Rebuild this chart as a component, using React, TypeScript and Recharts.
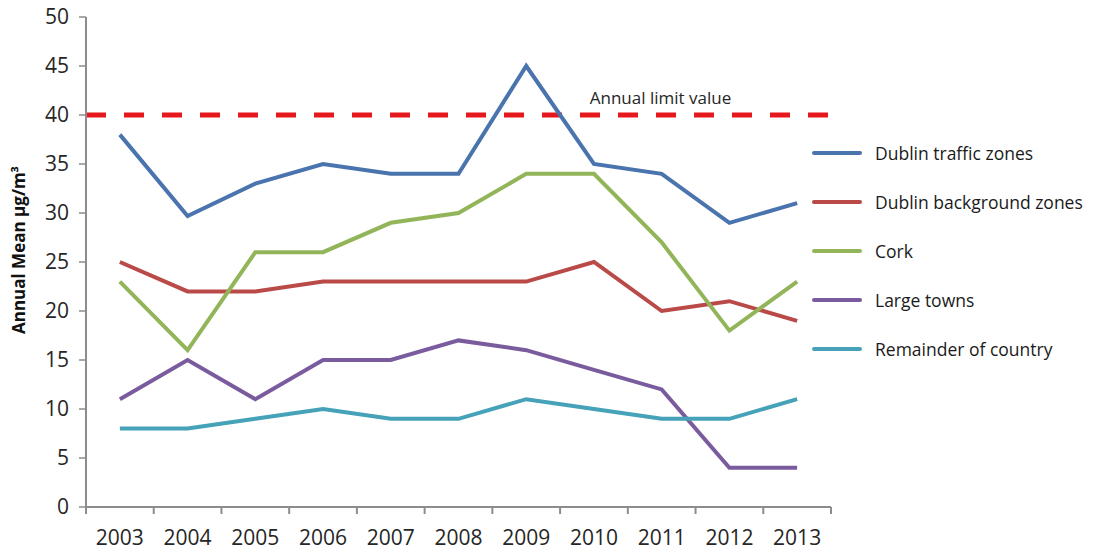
import React from 'react';
import { LineChart, Line, XAxis, YAxis, ReferenceLine } from 'recharts';

const YEARS = [2003, 2004, 2005, 2006, 2007, 2008, 2009, 2010, 2011, 2012, 2013];
const DUBLIN_TRAFFIC = [38, 29.7, 33, 35, 34, 34, 45, 35, 34, 29, 31];
const DUBLIN_BACKGROUND = [25, 22, 22, 23, 23, 23, 23, 25, 20, 21, 19];
const CORK = [23, 16, 26, 26, 29, 30, 34, 34, 27, 18, 23];
const LARGE_TOWNS = [11, 15, 11, 15, 15, 17, 16, 14, 12, 4, 4];
const REMAINDER = [8, 8, 9, 10, 9, 9, 11, 10, 9, 9, 11];
const Y_TICKS = [0, 5, 10, 15, 20, 25, 30, 35, 40, 45, 50];
const LIMIT_VALUE = 40;

const SERIES = [
  { key: 'traffic', name: 'Dublin traffic zones', values: DUBLIN_TRAFFIC, color: '#4A74AD' },
  { key: 'background', name: 'Dublin background zones', values: DUBLIN_BACKGROUND, color: '#B94A48' },
  { key: 'cork', name: 'Cork', values: CORK, color: '#93B55A' },
  { key: 'towns', name: 'Large towns', values: LARGE_TOWNS, color: '#7A5C9E' },
  { key: 'remainder', name: 'Remainder of country', values: REMAINDER, color: '#45A2B8' },
];

const data = YEARS.map((year, i) => {
  const row: Record<string, number> = { year };
  SERIES.forEach((s) => { row[s.key] = s.values[i]; });
  return row;
});

const X_TICKS: number[] = [];
YEARS.forEach((y) => { X_TICKS.push(y - 0.5); X_TICKS.push(y); });
X_TICKS.push(YEARS[YEARS.length - 1] + 0.5);

const FONT = '"Open Sans", sans-serif';
const AXIS_COLOR = '#8C8C8C';

const XTick = (props: any) => {
  const { x, y, payload } = props;
  const v = payload.value;
  if (Number.isInteger(v)) {
    return (
      <text x={x} y={y + 38} textAnchor="middle" fontFamily={FONT} fontSize={21} fill="#262626">
        {v}
      </text>
    );
  }
  return <line x1={x} x2={x} y1={y} y2={y + 7} stroke={AXIS_COLOR} strokeWidth={2} />;
};

const LegendBox = () => (
  <div style={{ position: 'absolute', left: 812, top: 128, fontFamily: FONT, fontSize: 17.5, color: '#1a1a1a' }}>
    {SERIES.map((s) => (
      <div key={s.key} style={{ display: 'flex', alignItems: 'center', height: 49, whiteSpace: 'nowrap' }}>
        <div style={{ width: 50, height: 4, background: s.color, borderRadius: 2, marginRight: 13 }} />
        <span>{s.name}</span>
      </div>
    ))}
  </div>
);

export default function App() {
  return (
    <div style={{ position: 'absolute', left: 0, top: 0, width: 1097, height: 558, background: '#fff' }}>
      <LineChart width={1097} height={558} data={data} margin={{ top: 17, right: 266, bottom: 11, left: 26 }}>
        <XAxis
          dataKey="year"
          type="number"
          domain={[YEARS[0] - 0.5, YEARS[YEARS.length - 1] + 0.5]}
          ticks={X_TICKS}
          interval={0}
          tickLine={false}
          tickSize={0}
          tickMargin={0}
          height={40}
          axisLine={{ stroke: AXIS_COLOR, strokeWidth: 2 }}
          tick={<XTick />}
        />
        <YAxis
          width={60}
          domain={[0, 50]}
          ticks={Y_TICKS}
          interval={0}
          tickSize={7}
          tickMargin={10}
          axisLine={{ stroke: AXIS_COLOR, strokeWidth: 2 }}
          tickLine={{ stroke: AXIS_COLOR, strokeWidth: 1.5 }}
          tick={{ fontFamily: FONT, fontSize: 21, fill: '#262626' }}
          label={{
            value: 'Annual Mean µg/m³',
            angle: -90,
            position: 'insideLeft',
            dx: -12,
            dy: 72,
            style: { fontFamily: FONT, fontSize: 17, fontWeight: 700, fill: '#111' },
          }}
        />
        <ReferenceLine
          y={LIMIT_VALUE}
          stroke="#E5191C"
          strokeWidth={5}
          strokeDasharray="20 18"
          label={{
            value: 'Annual limit value',
            position: 'top',
            dx: 202,
            dy: -6,
            style: { fontFamily: FONT, fontSize: 17, fill: '#262626' },
          }}
        />
        {SERIES.map((s) => (
          <Line
            key={s.key}
            type="linear"
            dataKey={s.key}
            name={s.name}
            stroke={s.color}
            strokeWidth={4}
            dot={false}
            activeDot={false}
            isAnimationActive={false}
          />
        ))}
      </LineChart>
      <LegendBox />
    </div>
  );
}
